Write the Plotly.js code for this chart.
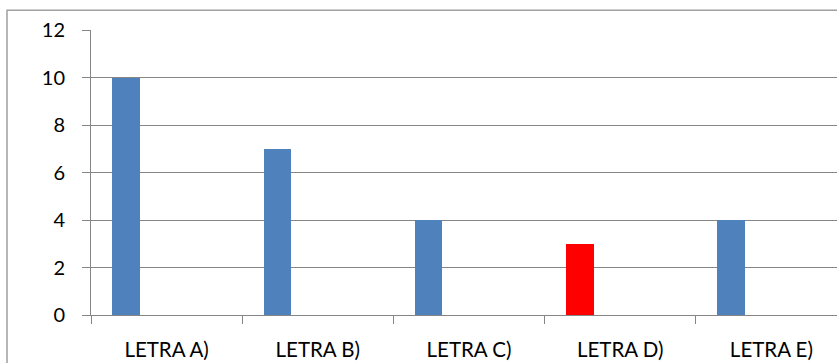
<!DOCTYPE html>
<html>
<head>
<meta charset="utf-8">
<script src="https://cdn.plot.ly/plotly-3.0.1.min.js"></script>
<style>html,body{margin:0;padding:0;background:#fff;}#chart{width:837px;height:363px;}</style>
</head>
<body>
<div id="chart"></div>
<script>
const categories = ["LETRA A)", "LETRA B)", "LETRA C)", "LETRA D)", "LETRA E)"];
const values = [10, 7, 4, 3, 4];
const yTicks = [0, 2, 4, 6, 8, 10, 12];

const barColors = ["#4F81BD", "#4F81BD", "#4F81BD", "#FF0000", "#4F81BD"];
const axisGray = "#868686";
const font = {family: "Lato, 'Open Sans', sans-serif", size: 20, color: "#000"};
const xFont = {family: "Lato, 'Open Sans', sans-serif", size: 20.5, color: "#000"};

const trace = {
  type: "bar",
  x: categories,
  y: values,
  width: 0.182,
  offset: -0.358,
  marker: {color: barColors, line: {width: 0}},
  hoverinfo: "x+y"
};

const layout = {
  width: 837,
  height: 363,
  margin: {l: 91, r: 0, t: 30, b: 48, pad: 0},
  paper_bgcolor: "#fff",
  plot_bgcolor: "#fff",
  showlegend: false,
  font: font,
  bargap: 0,
  xaxis: {
    type: "category",
    range: [-0.5, 4.434],
    tickson: "boundaries",
    ticks: "outside",
    ticklen: 8,
    tickwidth: 1,
    tickcolor: axisGray,
    showline: true,
    linecolor: axisGray,
    linewidth: 1,
    showgrid: false,
    zeroline: false,
    tickfont: xFont,
    ticklabelstandoff: 16,
    fixedrange: true
  },
  yaxis: {
    range: [0, 12],
    tickvals: yTicks,
    ticktext: yTicks.map(String),
    ticks: "outside",
    ticklen: 8,
    tickwidth: 1,
    tickcolor: axisGray,
    showline: true,
    linecolor: axisGray,
    linewidth: 1,
    showgrid: true,
    gridcolor: axisGray,
    gridwidth: 1,
    zeroline: false,
    tickfont: font,
    ticklabelstandoff: 13,
    fixedrange: true
  },
  shapes: [{
    type: "rect",
    xref: "paper", yref: "paper",
    x0: -0.1126, x1: 1.2, y0: -0.4, y1: 1.069,
    line: {color: "#a0a0a0", width: 1.5},
    fillcolor: "rgba(0,0,0,0)",
    layer: "below"
  }]
};

Plotly.newPlot("chart", [trace], layout, {displayModeBar: false, staticPlot: true});
</script>
</body>
</html>
